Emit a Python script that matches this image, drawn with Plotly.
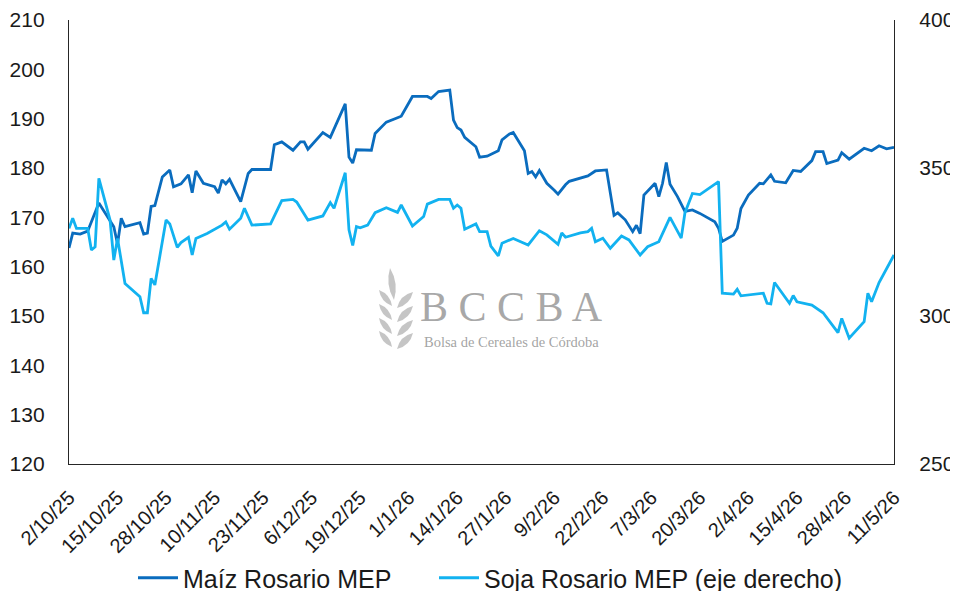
import plotly.graph_objects as go

# ---------------- data ----------------
maiz_dates = [
    "2025-10-02", "2025-10-03", "2025-10-05", "2025-10-07", "2025-10-10", "2025-10-13", "2025-10-14",
    "2025-10-15", "2025-10-16", "2025-10-17", "2025-10-21", "2025-10-22", "2025-10-23", "2025-10-24",
    "2025-10-25", "2025-10-27", "2025-10-29", "2025-10-30", "2025-11-01", "2025-11-03", "2025-11-04",
    "2025-11-05", "2025-11-07", "2025-11-10", "2025-11-11", "2025-11-12", "2025-11-13", "2025-11-14",
    "2025-11-17", "2025-11-19", "2025-11-20", "2025-11-25", "2025-11-26", "2025-11-28", "2025-12-01",
    "2025-12-03", "2025-12-04", "2025-12-05", "2025-12-09", "2025-12-11", "2025-12-12", "2025-12-15",
    "2025-12-16", "2025-12-17", "2025-12-18", "2025-12-22", "2025-12-23", "2025-12-26", "2025-12-29",
    "2025-12-30", "2026-01-02", "2026-01-06", "2026-01-07", "2026-01-09", "2026-01-12", "2026-01-13",
    "2026-01-14", "2026-01-15", "2026-01-16", "2026-01-18", "2026-01-19", "2026-01-20", "2026-01-22",
    "2026-01-25", "2026-01-26", "2026-01-28", "2026-01-29", "2026-02-01", "2026-02-02", "2026-02-03",
    "2026-02-04", "2026-02-05", "2026-02-07", "2026-02-09", "2026-02-10", "2026-02-12", "2026-02-13",
    "2026-02-18", "2026-02-20", "2026-02-23", "2026-02-25", "2026-02-26", "2026-02-28", "2026-03-02",
    "2026-03-03", "2026-03-04", "2026-03-05", "2026-03-08", "2026-03-09", "2026-03-10", "2026-03-11",
    "2026-03-12", "2026-03-14", "2026-03-16", "2026-03-18", "2026-03-20", "2026-03-24", "2026-03-25",
    "2026-03-26", "2026-03-29", "2026-03-30", "2026-03-31", "2026-04-02", "2026-04-05", "2026-04-06",
    "2026-04-08", "2026-04-09", "2026-04-12", "2026-04-14", "2026-04-16", "2026-04-19", "2026-04-20",
    "2026-04-22", "2026-04-23", "2026-04-26", "2026-04-27", "2026-04-29", "2026-05-03", "2026-05-05",
    "2026-05-07", "2026-05-09", "2026-05-11",
]
maiz_values = [
    163.8, 166.8, 166.6, 167.2, 172.9, 169.1, 168.1,
    164.6, 169.8, 168.1, 168.9, 166.6, 166.8, 172.2,
    172.4, 178.2, 179.6, 176.2, 176.8, 178.6, 175.0,
    179.4, 176.9, 176.2, 174.9, 177.6, 176.8, 177.7,
    173.2, 178.9, 179.7, 179.7, 184.7, 185.3, 183.6,
    185.3, 185.3, 183.8, 187.2, 186.2, 188.0, 193.0,
    182.2, 181.0, 183.7, 183.6, 187.0, 189.3, 190.2,
    190.5, 194.5, 194.5, 194.1, 195.5, 195.8, 189.7,
    188.2, 187.7, 186.2, 185.0, 184.3, 182.2, 182.4,
    183.5, 185.7, 186.9, 187.2, 183.5, 178.9, 179.3,
    178.2, 179.5, 176.9, 175.5, 174.7, 176.6, 177.3,
    178.4, 179.4, 179.6, 170.4, 170.9, 169.5, 167.1,
    168.4, 166.7, 174.5, 176.9, 174.2, 176.9, 181.1,
    176.7, 174.2, 171.2, 171.5, 170.8, 169.1, 167.8,
    165.1, 166.4, 167.8, 171.8, 174.5, 176.9, 176.8,
    178.6, 177.3, 177.0, 179.5, 179.3, 181.5, 183.3,
    183.3, 180.9, 181.6, 183.1, 181.8, 184.0, 183.5,
    184.5, 183.9, 184.2,
]

soja_dates = [
    "2025-10-02", "2025-10-03", "2025-10-04", "2025-10-07", "2025-10-08", "2025-10-09", "2025-10-10",
    "2025-10-13", "2025-10-14", "2025-10-15", "2025-10-17", "2025-10-21", "2025-10-22", "2025-10-23",
    "2025-10-24", "2025-10-25", "2025-10-28", "2025-10-29", "2025-10-31", "2025-11-01", "2025-11-03",
    "2025-11-04", "2025-11-05", "2025-11-08", "2025-11-12", "2025-11-13", "2025-11-14", "2025-11-17",
    "2025-11-18", "2025-11-20", "2025-11-25", "2025-11-27", "2025-11-28", "2025-12-01", "2025-12-02",
    "2025-12-05", "2025-12-09", "2025-12-11", "2025-12-12", "2025-12-15", "2025-12-16", "2025-12-17",
    "2025-12-18", "2025-12-19", "2025-12-21", "2025-12-23", "2025-12-26", "2025-12-29", "2025-12-30",
    "2026-01-02", "2026-01-05", "2026-01-06", "2026-01-09", "2026-01-12", "2026-01-13", "2026-01-14",
    "2026-01-15", "2026-01-16", "2026-01-19", "2026-01-20", "2026-01-22", "2026-01-23", "2026-01-25",
    "2026-01-26", "2026-01-29", "2026-02-02", "2026-02-05", "2026-02-07", "2026-02-10", "2026-02-11",
    "2026-02-12", "2026-02-16", "2026-02-18", "2026-02-19", "2026-02-20", "2026-02-22", "2026-02-24",
    "2026-02-27", "2026-03-01", "2026-03-04", "2026-03-06", "2026-03-09", "2026-03-12", "2026-03-15",
    "2026-03-16", "2026-03-18", "2026-03-20", "2026-03-25", "2026-03-26", "2026-03-29", "2026-03-30",
    "2026-03-31", "2026-04-06", "2026-04-07", "2026-04-08", "2026-04-09", "2026-04-13", "2026-04-14",
    "2026-04-15", "2026-04-19", "2026-04-22", "2026-04-26", "2026-04-27", "2026-04-29", "2026-05-03",
    "2026-05-04", "2026-05-05", "2026-05-07", "2026-05-09", "2026-05-11",
]
soja_values = [
    329.6, 333.0, 329.6, 329.6, 322.3, 323.4, 346.5,
    332.4, 318.9, 326.2, 311.0, 306.5, 301.1, 301.1,
    312.7, 310.5, 332.4, 331.1, 323.2, 324.8, 326.6,
    320.6, 326.2, 327.9, 330.7, 331.8, 329.3, 333.0,
    336.4, 330.7, 331.1, 336.4, 339.0, 339.4, 338.5,
    332.4, 333.8, 338.3, 336.4, 348.4, 329.1, 323.8,
    330.2, 329.8, 330.7, 334.9, 336.6, 335.0, 337.5,
    330.4, 333.6, 337.8, 339.4, 339.4, 336.4, 337.5,
    336.4, 329.3, 331.1, 328.5, 328.5, 323.6, 320.3,
    324.6, 326.2, 324.0, 328.8, 327.4, 324.2, 328.1,
    326.6, 328.1, 328.5, 329.6, 325.1, 326.3, 322.9,
    327.0, 325.7, 320.6, 323.4, 325.1, 333.3, 326.3,
    334.9, 341.4, 341.0, 345.4, 307.7, 307.4, 309.0,
    306.8, 307.7, 304.3, 304.1, 311.3, 304.3, 306.9,
    304.8, 303.7, 301.1, 294.4, 299.2, 292.5, 298.1,
    307.7, 304.8, 311.3, 315.8, 320.6,
]

tick_dates = [
    "2025-10-02", "2025-10-15", "2025-10-28", "2025-11-10", "2025-11-23", "2025-12-06",
    "2025-12-19", "2026-01-01", "2026-01-14", "2026-01-27", "2026-02-09", "2026-02-22",
    "2026-03-07", "2026-03-20", "2026-04-02", "2026-04-15", "2026-04-28", "2026-05-11",
]
tick_labels = [
    "2/10/25", "15/10/25", "28/10/25", "10/11/25", "23/11/25", "6/12/25",
    "19/12/25", "1/1/26", "14/1/26", "27/1/26", "9/2/26", "22/2/26",
    "7/3/26", "20/3/26", "2/4/26", "15/4/26", "28/4/26", "11/5/26",
]

# ---------------- figure ----------------
# the page body has an 8px margin, so the figure is drawn 8px in from the corner
OX, OY = 8, 8
W, H = 950, 583
ML, MT = 61, 12
PW, PH = 825, 444
MR, MB = W - ML - PW, H - MT - PH

FONT = "Liberation Sans, Arial, sans-serif"
DARK = "#0A6CBE"
LIGHT = "#12B2F0"
TXT = "#1a1a1a"

fig = go.Figure()
fig.add_trace(go.Scatter(x=maiz_dates, y=maiz_values, mode="lines",
                         name="Maíz Rosario MEP", legend="legend",
                         line=dict(color=DARK, width=2.8)))
fig.add_trace(go.Scatter(x=soja_dates, y=soja_values, mode="lines",
                         name="Soja Rosario MEP (eje derecho)", yaxis="y2", legend="legend2",
                         line=dict(color=LIGHT, width=2.8)))


def P(px, py):
    """page pixel -> paper fraction"""
    return (px - OX - ML) / PW, (MT + PH - (py - OY)) / PH


def leaf(bx, by, tx, ty, w):
    mx, my = (bx + tx) / 2, (by + ty) / 2
    dx, dy = tx - bx, ty - by
    ln = (dx * dx + dy * dy) ** 0.5
    nx, ny = -dy / ln, dx / ln
    c1 = P(mx + nx * w, my + ny * w)
    c2 = P(mx - nx * w, my - ny * w)
    b = P(bx, by)
    t = P(tx, ty)
    return (f"M {b[0]:.5f},{b[1]:.5f} Q {c1[0]:.5f},{c1[1]:.5f} {t[0]:.5f},{t[1]:.5f} "
            f"Q {c2[0]:.5f},{c2[1]:.5f} {b[0]:.5f},{b[1]:.5f} Z")


shapes = []
wm = "rgba(150,150,150,0.55)"
# watermark wheat icon
shapes.append(dict(type="path", xref="paper", yref="paper", layer="below",
                   path=leaf(394, 300, 390, 268, 7), fillcolor=wm, line=dict(width=0)))
for sy in (306, 320, 334, 347):
    shapes.append(dict(type="path", xref="paper", yref="paper", layer="below",
                       path=leaf(392, sy, 379, sy - 16, 6), fillcolor=wm, line=dict(width=0)))
    shapes.append(dict(type="path", xref="paper", yref="paper", layer="below",
                       path=leaf(397, sy + 2, 413, sy - 14, 7), fillcolor=wm, line=dict(width=0)))

annotations = [
    dict(text="B C C B A", xref="paper", yref="paper", x=P(511, 0)[0], y=P(0, 307)[1],
         xanchor="center", yanchor="middle", showarrow=False,
         font=dict(family="Liberation Serif, DejaVu Serif, serif", size=42, color="rgba(140,140,140,0.75)")),
    dict(text="Bolsa de Cereales de Córdoba", xref="paper", yref="paper", x=P(511, 0)[0], y=P(0, 342)[1],
         xanchor="center", yanchor="middle", showarrow=False,
         font=dict(family="Liberation Serif, DejaVu Serif, serif", size=14.5, color="rgba(140,140,140,0.8)")),
]

l1x, ly = P(133, 578)
l2x, _ = P(434, 578)
legend_common = dict(orientation="h", xanchor="left", y=ly, yanchor="middle",
                     font=dict(family=FONT, size=25, color=TXT),
                     itemwidth=40, bgcolor="rgba(0,0,0,0)")

fig.update_layout(
    width=W, height=H,
    margin=dict(l=ML, r=MR, t=MT, b=MB, pad=0, autoexpand=False),
    paper_bgcolor="white", plot_bgcolor="white",
    font=dict(family=FONT, size=21, color=TXT),
    showlegend=True,
    legend=dict(x=l1x, **legend_common),
    legend2=dict(x=l2x, **legend_common),
    xaxis=dict(type="date", range=["2025-10-02", "2026-05-11"], automargin=False,
               tickmode="array", tickvals=tick_dates, ticktext=tick_labels,
               tickangle=-45, showgrid=False, zeroline=False,
               showline=True, linecolor="#262626", linewidth=1.3,
               ticks="", ticklabelstandoff=13,
               tickfont=dict(family=FONT, size=20, color=TXT)),
    yaxis=dict(range=[120, 210], dtick=10, tick0=120, showgrid=False, zeroline=False,
               automargin=False,
               showline=True, linecolor="#262626", linewidth=1.3, ticks="",
               ticklabelstandoff=19,
               tickfont=dict(family=FONT, size=21, color=TXT)),
    yaxis2=dict(range=[250, 400], dtick=50, tick0=250, overlaying="y", side="right",
                automargin=False,
                showgrid=False, zeroline=False, showline=True, linecolor="#262626",
                linewidth=1.3, ticks="", ticklabelstandoff=20,
                tickfont=dict(family=FONT, size=21, color=TXT)),
    shapes=shapes,
    annotations=annotations,
)

fig.write_html("out.html")
